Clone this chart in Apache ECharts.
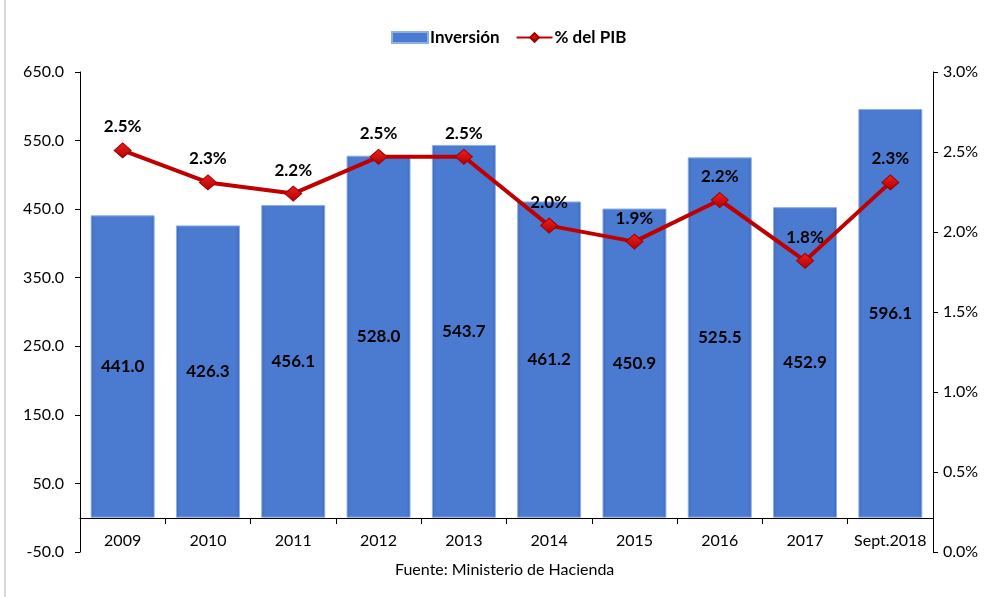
<!DOCTYPE html>
<html>
<head>
<meta charset="utf-8">
<script src="https://cdn.jsdelivr.net/npm/echarts@6/dist/echarts.min.js"></script>
<style>
  html, body { margin: 0; padding: 0; background: #fff; }
  #chart { width: 987px; height: 597px; }
</style>
</head>
<body>
<div id="chart"></div>
<script>
// datos
const years = ['2009', '2010', '2011', '2012', '2013', '2014', '2015', '2016', '2017', 'Sept.2018'];
const inversion = [441.0, 426.3, 456.1, 528.0, 543.7, 461.2, 450.9, 525.5, 452.9, 596.1];
const pctPib = [2.51, 2.31, 2.24, 2.47, 2.47, 2.04, 1.94, 2.20, 1.82, 2.31];
const leftTicks = { min: -50, max: 650, interval: 100 };
const rightTicks = { min: 0, max: 3, interval: 0.5 };

const font = 'Lato, "Open Sans", sans-serif';
const chart = echarts.init(document.getElementById('chart'));

const option = {
  animation: false,
  textStyle: { fontFamily: font },
  graphic: [
    {
      type: 'line',
      shape: { x1: 5, y1: 0, x2: 5, y2: 597 },
      style: { stroke: '#d9d9d9', lineWidth: 2 }
    }
  ],
  title: {
    text: 'Fuente: Ministerio de Hacienda',
    left: 390,
    top: 557,
    textStyle: { fontFamily: font, fontSize: 16, fontWeight: 'normal', color: '#000' }
  },
  legend: {
    top: 24,
    left: 386,
    itemGap: 16,
    itemWidth: 36,
    itemHeight: 11,
    textStyle: { fontFamily: font, fontSize: 17, fontWeight: 'bold', color: '#000', padding: [0, 0, 0, -3] },
    data: [
      { name: 'Inversión', icon: 'rect' },
      { name: '% del PIB' }
    ]
  },
  grid: { left: 80, right: 54, top: 72, bottom: 45 },
  xAxis: {
    type: 'category',
    data: years,
    offset: -34,
    axisLine: { onZero: false, lineStyle: { color: '#000', width: 1 } },
    axisTick: { show: true, length: 6, lineStyle: { color: '#000' } },
    axisLabel: { color: '#000', fontSize: 16, margin: 15, fontFamily: font, interval: 0 }
  },
  yAxis: [
    {
      type: 'value',
      min: leftTicks.min,
      max: leftTicks.max,
      interval: leftTicks.interval,
      splitLine: { show: false },
      axisLine: { show: true, lineStyle: { color: '#000' } },
      axisTick: { show: true, length: 5, lineStyle: { color: '#000' } },
      axisLabel: {
        color: '#000', fontSize: 16, margin: 16, fontFamily: font,
        formatter: v => v.toFixed(1)
      }
    },
    {
      type: 'value',
      min: rightTicks.min,
      max: rightTicks.max,
      interval: rightTicks.interval,
      splitLine: { show: false },
      axisLine: { show: true, lineStyle: { color: '#000' } },
      axisTick: { show: true, length: 5, lineStyle: { color: '#000' } },
      axisLabel: {
        color: '#000', fontSize: 16, margin: 10, fontFamily: font,
        formatter: v => v.toFixed(1) + '%'
      }
    }
  ],
  series: [
    {
      name: 'Inversión',
      type: 'bar',
      yAxisIndex: 0,
      barWidth: '75%',
      data: inversion,
      itemStyle: {
        color: new echarts.graphic.LinearGradient(0, 0, 1, 0, [
          { offset: 0, color: '#3e68b6' },
          { offset: 0.06, color: '#4a7bd1' },
          { offset: 0.94, color: '#4a7bd1' },
          { offset: 1, color: '#3e68b6' }
        ]),
        borderColor: '#8fb0e6',
        borderWidth: 1
      },
      label: {
        show: true,
        position: 'inside',
        color: '#000',
        fontSize: 17,
        fontWeight: 'bold',
        fontFamily: font,
        formatter: p => p.value.toFixed(1)
      }
    },
    {
      name: '% del PIB',
      type: 'line',
      yAxisIndex: 1,
      data: pctPib,
      symbol: 'diamond',
      symbolSize: [17, 15],
      lineStyle: { color: '#c00000', width: 4 },
      itemStyle: {
        color: new echarts.graphic.LinearGradient(0, 0, 0, 1, [
          { offset: 0, color: '#f02020' },
          { offset: 1, color: '#b00000' }
        ]),
        borderColor: '#a00000',
        borderWidth: 1
      },
      z: 5,
      label: {
        show: true,
        position: 'top',
        distance: 7,
        color: '#000',
        fontSize: 17,
        fontWeight: 'bold',
        fontFamily: font,
        formatter: p => p.value.toFixed(1) + '%'
      }
    }
  ]
};

chart.setOption(option);
</script>
</body>
</html>
